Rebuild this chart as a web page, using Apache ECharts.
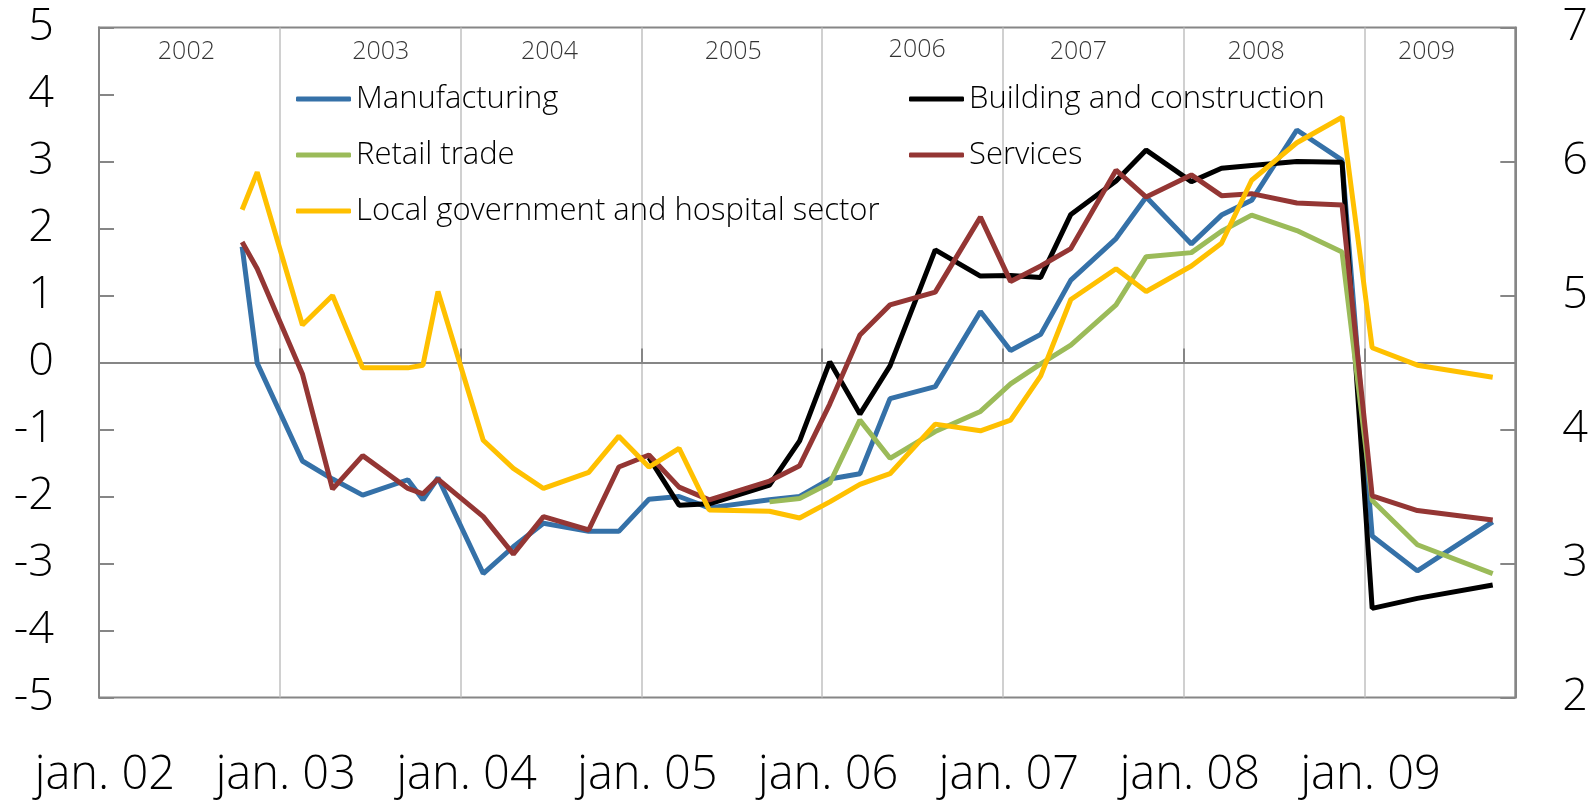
<!DOCTYPE html>
<html>
<head>
<meta charset="utf-8">
<title>Output growth by sector</title>
<script src="https://cdn.jsdelivr.net/npm/echarts@6.0.0/dist/echarts.min.js"></script>
<style>
  html, body { margin: 0; padding: 0; background: #fff; }
  #chart { width: 1591px; height: 801px; }
</style>
</head>
<body>
<div id="chart"></div>
<script>
// survey rounds (year-month)
const surveyDates = ['2002-10', '2002-11', '2003-02', '2003-04', '2003-06', '2003-09', '2003-10', '2003-11',
  '2004-02', '2004-04', '2004-06', '2004-09', '2004-11', '2005-01', '2005-03', '2005-05', '2005-09', '2005-11',
  '2006-01', '2006-03', '2006-05', '2006-08', '2006-11', '2007-01', '2007-03', '2007-05', '2007-08', '2007-10',
  '2008-01', '2008-03', '2008-05', '2008-08', '2008-11', '2009-01', '2009-04', '2009-09']

// left axis
const manufacturing = [1.73, -0.01, -1.47, -1.74, -1.98, -1.75, -2.05, -1.72, -3.15, -2.75, -2.40, -2.52, -2.52,
  -2.04, -2.00, -2.17, -2.05, -2.00, -1.74, -1.66, -0.54, -0.36, 0.76, 0.18, 0.42, 1.23, 1.85, 2.47,
  1.77, 2.20, 2.42, 3.47, 3.02, -2.59, -3.11, -2.38]
const building = [null, null, null, null, null, null, null, null, null, null, null, null, null,
  -1.42, -2.13, -2.11, -1.83, -1.17, 0.01, -0.77, -0.05, 1.68, 1.29, 1.30, 1.27, 2.21, 2.71, 3.17,
  2.70, 2.90, 2.94, 3.00, 2.99, -3.67, -3.52, -3.32]
const retail = [null, null, null, null, null, null, null, null, null, null, null, null, null,
  null, null, null, -2.08, -2.03, -1.80, -0.86, -1.43, -1.03, -0.73, -0.32, -0.02, 0.26, 0.86, 1.58,
  1.64, 1.96, 2.20, 1.97, 1.65, -2.06, -2.72, -3.15]
const services = [1.80, 1.40, -0.17, -1.89, -1.39, -1.88, -1.96, -1.74, -2.30, -2.86, -2.30, -2.50, -1.56,
  -1.38, -1.86, -2.05, -1.77, -1.54, -0.62, 0.41, 0.86, 1.05, 2.17, 1.21, 1.44, 1.70, 2.87, 2.47,
  2.80, 2.49, 2.52, 2.38, 2.35, -1.99, -2.21, -2.35]
// right axis
const localGov = [5.64, 5.92, 4.78, 5.00, 4.46, 4.46, 4.48, 5.03, 3.92, 3.71, 3.56, 3.68, 3.95,
  3.72, 3.86, 3.40, 3.39, 3.34, 3.46, 3.59, 3.67, 4.04, 3.99, 4.07, 4.40, 4.97, 5.20, 5.03,
  5.22, 5.39, 5.86, 6.14, 6.33, 4.61, 4.48, 4.39]

// year captions along the top (months after jan. 02, left axis level)
const yearLabels = ['2002', '2003', '2004', '2005', '2006', '2007', '2008', '2009']
const yearLabelMonth = [5.8, 18.7, 29.9, 42.1, 54.3, 65.0, 76.8, 88.1]
const yearLabelLevel = [4.63, 4.63, 4.63, 4.63, 4.66, 4.63, 4.63, 4.63]

const FONT = 'Open Sans'
const GREY = '#868686'

// months since jan. 02, placed mid-month
function monthPos (d) {
  const p = d.split('-')
  return (Number(p[0]) - 2002) * 12 + Number(p[1]) - 1 + 0.5
}
function pairs (arr) {
  return surveyDates.map((d, i) => [monthPos(d), arr[i]])
}
function line (name, color, arr, yAxisIndex) {
  return {
    name: name,
    type: 'line',
    yAxisIndex: yAxisIndex,
    data: pairs(arr),
    symbol: 'none',
    connectNulls: true,
    lineStyle: { color: color, width: 5 },
    itemStyle: { color: color },
    z: 3
  }
}

const chart = echarts.init(document.getElementById('chart'))

const legendText = { fontFamily: FONT, fontWeight: 300, fontSize: 31, color: '#000', lineHeight: 36 }

chart.setOption({
  animation: false,
  grid: { left: 99, top: 27.5, right: 73, bottom: 103.5, show: true, borderColor: GREY, borderWidth: 2, containLabel: false },
  legend: [
    {
      data: ['Manufacturing', 'Retail trade', 'Local government and hospital sector'],
      orient: 'vertical', left: 296, top: 81, padding: 0,
      itemWidth: 55, itemHeight: 5, itemGap: 20, icon: 'roundRect',
      textStyle: legendText
    },
    {
      data: ['Building and construction', 'Services'],
      orient: 'vertical', left: 909, top: 81, padding: 0,
      itemWidth: 55, itemHeight: 5, itemGap: 20, icon: 'roundRect',
      textStyle: legendText
    }
  ],
  xAxis: {
    type: 'value',
    min: 0,
    max: 94,
    interval: 12,
    axisLine: { show: true, lineStyle: { color: GREY, width: 2 } },
    axisTick: { show: true, inside: true, length: 14, lineStyle: { color: GREY, width: 2 } },
    splitLine: { show: true, lineStyle: { color: '#c0c0c0', width: 1.5 } },
    axisLabel: {
      margin: 55,
      fontFamily: FONT,
      fontWeight: 300,
      fontSize: 47,
      color: '#000',
      padding: [0, 0, 0, 12],
      showMaxLabel: false,
      formatter: function (v) {
        if (v % 12 !== 0) return ''
        const yy = 2 + v / 12
        return 'jan. ' + (yy < 10 ? '0' + yy : yy)
      }
    }
  },
  yAxis: [
    {
      type: 'value',
      min: -5,
      max: 5,
      interval: 1,
      axisLine: { show: true, lineStyle: { color: GREY, width: 2 } },
      axisTick: { show: true, inside: true, length: 15, lineStyle: { color: GREY, width: 2 } },
      splitLine: { show: false },
      axisLabel: { margin: 45, fontFamily: FONT, fontWeight: 300, fontSize: 45, color: '#000' }
    },
    {
      type: 'value',
      min: 2,
      max: 7,
      interval: 1,
      position: 'right',
      axisLine: { show: true, lineStyle: { color: GREY, width: 2 } },
      axisTick: { show: true, inside: true, length: 15, lineStyle: { color: GREY, width: 2 } },
      splitLine: { show: false },
      axisLabel: { margin: 47, fontFamily: FONT, fontWeight: 300, fontSize: 45, color: '#000' }
    }
  ],
  series: [
    Object.assign(line('Manufacturing', '#3571a8', manufacturing, 0), {
      markLine: {
        silent: true,
        symbol: 'none',
        z: 1,
        label: { show: false },
        lineStyle: { color: GREY, width: 2, type: 'solid' },
        data: [{ yAxis: 0 }]
      }
    }),
    line('Building and construction', '#000000', building, 0),
    line('Retail trade', '#9bbb59', retail, 0),
    line('Services', '#943634', services, 0),
    line('Local government and hospital sector', '#ffc000', localGov, 1),
    {
      type: 'scatter',
      silent: true,
      symbolSize: 0,
      data: yearLabels.map((t, i) => ({ name: t, value: [yearLabelMonth[i], yearLabelLevel[i]] })),
      label: {
        show: true,
        position: 'inside',
        formatter: '{b}',
        fontFamily: FONT,
        fontWeight: 300,
        fontSize: 25,
        color: '#000'
      }
    }
  ]
})
</script>
</body>
</html>
